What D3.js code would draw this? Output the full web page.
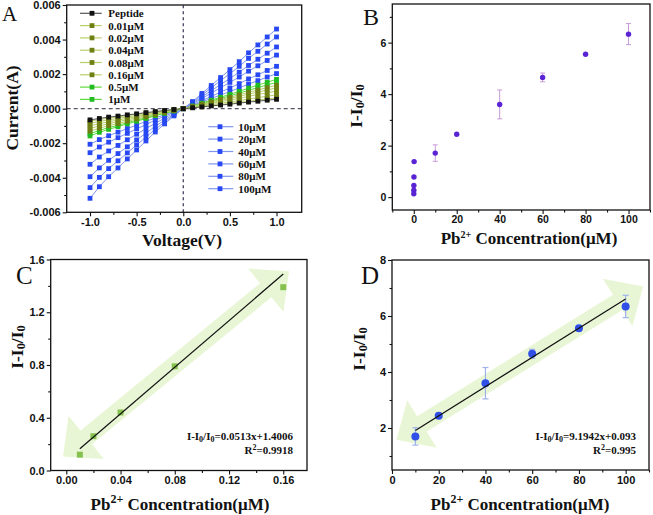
<!DOCTYPE html>
<html><head><meta charset="utf-8">
<script src="https://cdn.jsdelivr.net/npm/d3@7"></script>
<style>body{margin:0;background:#fff}svg{display:block}</style>
</head><body>
<svg id="c" width="653" height="515"></svg>
<script>
// ---------- Panel A data (current in mA) ----------
const voltages = [-1.0,-0.9,-0.8,-0.7,-0.6,-0.5,-0.4,-0.3,-0.2,-0.1,0.0,0.1,0.2,0.3,0.4,0.5,0.6,0.7,0.8,0.9,1.0];
const ivNames = ["Peptide","0.01μM","0.02μM","0.04μM","0.08μM","0.16μM","0.5μM","1μM","10μM","20μM","40μM","60μM","80μM","100μM"];
const iPeptide = [-0.65,-0.57,-0.49,-0.43,-0.36,-0.30,-0.23,-0.17,-0.11,-0.05,0,0.05,0.10,0.16,0.21,0.26,0.32,0.38,0.43,0.49,0.54];
const i001 = [-0.72,-0.63,-0.55,-0.48,-0.40,-0.33,-0.26,-0.19,-0.12,-0.06,0,0.06,0.12,0.18,0.24,0.30,0.37,0.43,0.50,0.56,0.62];
const i002 = [-0.85,-0.74,-0.65,-0.56,-0.48,-0.39,-0.31,-0.22,-0.14,-0.07,0,0.07,0.15,0.23,0.31,0.39,0.47,0.56,0.64,0.72,0.80];
const i004 = [-1.00,-0.87,-0.76,-0.66,-0.56,-0.46,-0.36,-0.26,-0.17,-0.08,0,0.09,0.19,0.30,0.40,0.50,0.60,0.71,0.82,0.92,1.02];
const i008 = [-1.15,-1.00,-0.87,-0.76,-0.64,-0.53,-0.41,-0.30,-0.20,-0.09,0,0.11,0.23,0.35,0.47,0.59,0.71,0.84,0.96,1.08,1.20];
const i016 = [-1.30,-1.13,-0.99,-0.86,-0.73,-0.60,-0.47,-0.34,-0.22,-0.10,0,0.12,0.26,0.39,0.53,0.66,0.80,0.95,1.08,1.22,1.35];
const i05  = [-1.45,-1.26,-1.10,-0.96,-0.81,-0.67,-0.52,-0.38,-0.25,-0.12,0,0.14,0.29,0.44,0.59,0.74,0.90,1.06,1.22,1.37,1.52];
const i1   = [-1.58,-1.37,-1.20,-1.04,-0.88,-0.73,-0.57,-0.41,-0.27,-0.13,0,0.15,0.32,0.49,0.66,0.83,1.00,1.19,1.36,1.53,1.70];
const i10  = [-2.06,-1.79,-1.57,-1.36,-1.15,-0.95,-0.74,-0.54,-0.35,-0.16,0,0.18,0.39,0.59,0.79,0.99,1.20,1.42,1.62,1.83,2.03];
const i20  = [-2.55,-2.22,-1.94,-1.68,-1.43,-1.17,-0.92,-0.66,-0.43,-0.20,0,0.22,0.47,0.71,0.96,1.20,1.45,1.72,1.96,2.21,2.45];
const i40  = [-3.22,-2.80,-2.45,-2.13,-1.80,-1.48,-1.16,-0.84,-0.55,-0.26,0,0.28,0.59,0.90,1.21,1.52,1.83,2.17,2.48,2.79,3.10];
const i60  = [-3.94,-3.43,-2.99,-2.60,-2.21,-1.81,-1.42,-1.02,-0.67,-0.32,0,0.32,0.68,1.04,1.39,1.75,2.11,2.50,2.86,3.21,3.57];
const i80  = [-4.57,-3.98,-3.47,-3.02,-2.56,-2.10,-1.65,-1.19,-0.78,-0.37,0,0.37,0.79,1.20,1.62,2.03,2.45,2.91,3.32,3.74,4.15];
const i100 = [-5.19,-4.52,-3.94,-3.43,-2.91,-2.39,-1.87,-1.35,-0.88,-0.42,0,0.41,0.88,1.34,1.80,2.26,2.72,3.23,3.69,4.15,4.61];
const ivValues = [iPeptide,i001,i002,i004,i008,i016,i05,i1,i10,i20,i40,i60,i80,i100];
const aXTicks = [-1.0,-0.5,0.0,0.5,1.0];
const aXMinor = [-0.75,-0.25,0.25,0.75];
const aYTicks = [-0.006,-0.004,-0.002,0.000,0.002,0.004,0.006];
const aYMinor = [-0.005,-0.003,-0.001,0.001,0.003,0.005];

// ---------- Panel B data ----------
const concB = [0.01,0.02,0.04,0.08,0.16,10,20,40,60,80,100];
const ratioB = [0.13,0.27,0.45,0.78,1.38,1.71,2.44,3.60,4.65,5.55,6.33];
const errB = [0,0,0,0,0,0.32,0.03,0.56,0.17,0.04,0.41];
const bXTicks = [0,20,40,60,80,100];
const bXMinor = [-10,10,30,50,70,90,110];
const bYTicks = [0,2,4,6];
const bYMinor = [1,3,5,7];

// ---------- Panel C data ----------
const concC = [0.01,0.02,0.04,0.08,0.16];
const ratioC = [0.12,0.26,0.44,0.79,1.39];
const fitC = [[0.01,0.165],[0.16,1.49]];
const arrowC = [[-0.0024,0.107],[0.1642,1.511]];
const cXTicks = [0.00,0.04,0.08,0.12,0.16];
const cXMinor = [0.02,0.06,0.10,0.14];
const cYTicks = [0.0,0.4,0.8,1.2,1.6];
const cYMinor = [0.2,0.6,1.0,1.4];
const eqC = ["0.0513x+1.4006","0.9918"];

// ---------- Panel D data ----------
const concD = [10,20,40,60,80,100];
const ratioD = [1.70,2.44,3.60,4.65,5.56,6.34];
const errD = [0.31,0.03,0.56,0.16,0.05,0.40];
const fitD = [[10,1.91],[100,6.61]];
const arrowD = [[1.9,1.58],[107.5,7.05]];
const dXTicks = [0,20,40,60,80,100];
const dXMinor = [10,30,50,70,90,110];
const dYTicks = [2,4,6,8];
const dYMinor = [1,3,5,7];
const eqD = ["9.1942x+0.093","0.995"];

// ---------- styles ----------
const sansB = "'Liberation Sans', Arial, sans-serif";
const serif = "'Liberation Serif', 'Times New Roman', serif";
const svg = d3.select("#c");

function axes(g, x, y, o) {
  const [y0] = y.range(), [x0] = x.range();
  g.append("g").attr("transform", `translate(0,${y0})`)
    .call(d3.axisBottom(x).tickValues(o.xt).tickSize(4).tickPadding(2).tickSizeOuter(0).tickFormat(o.xf));
  g.append("g").attr("transform", `translate(0,${y0})`)
    .call(d3.axisBottom(x).tickValues(o.xm).tickSize(2.5).tickSizeOuter(0).tickFormat(""));
  g.append("g").attr("transform", `translate(${x0},0)`)
    .call(d3.axisLeft(y).tickValues(o.yt).tickSize(4).tickPadding(2).tickSizeOuter(0).tickFormat(o.yf));
  g.append("g").attr("transform", `translate(${x0},0)`)
    .call(d3.axisLeft(y).tickValues(o.ym).tickSize(2.5).tickSizeOuter(0).tickFormat(""));
  g.selectAll(".domain").remove();
  g.selectAll(".tick line").attr("stroke", "#111").attr("stroke-width", 1.1);
  g.selectAll(".tick text").attr("font-family", sansB).attr("font-weight", "bold")
    .attr("font-size", o.fs).attr("fill", "#111");
  const xr = x.range(), yr = y.range();
  g.append("rect").attr("x", xr[0]).attr("y", yr[1]).attr("width", xr[1] - xr[0]).attr("height", yr[0] - yr[1])
    .attr("fill", "none").attr("stroke", "#111").attr("stroke-width", 1.3);
}

function ratioTitle(g, cx, cy) {
  const t = g.append("text").attr("transform", `translate(${cx},${cy}) rotate(-90)`)
    .attr("text-anchor", "middle").attr("dominant-baseline", "central")
    .attr("font-family", serif).attr("font-weight", "bold").attr("font-size", 17.5).attr("fill", "#111");
  t.append("tspan").text("I-I");
  t.append("tspan").text("0").attr("font-size", 12.5).attr("dy", 4);
  t.append("tspan").text("/I").attr("dy", -4);
  t.append("tspan").text("0").attr("font-size", 12.5).attr("dy", 4);
}
function pbTitle(g, cx, by, supSize, shift) {
  const t = g.append("text").attr("x", cx).attr("y", by).attr("text-anchor", "middle")
    .attr("font-family", serif).attr("font-weight", "bold").attr("font-size", 17).attr("fill", "#111");
  t.append("tspan").text("Pb");
  t.append("tspan").text("2+").attr("font-size", supSize).attr("dy", -shift);
  t.append("tspan").text(" Concentration(μM)").attr("dy", shift);
}
function letter(txt, x, y, fs) {
  svg.append("text").attr("x", x).attr("y", y).text(txt).attr("font-family", serif)
    .attr("font-size", fs).attr("fill", "#111");
}
function arrowPts(p0, p1, w, hw, hl) {
  const dx = p1[0]-p0[0], dy = p1[1]-p0[1], L = Math.hypot(dx, dy);
  const ux = dx/L, uy = dy/L, nx = -uy, ny = ux;
  const b1 = [p1[0]-ux*hl, p1[1]-uy*hl], b0 = [p0[0]+ux*hl, p0[1]+uy*hl];
  const P = (b, s) => [b[0]+nx*s, b[1]+ny*s];
  return [p1, P(b1,hw), P(b1,w), P(b0,w), P(b0,hw), p0, P(b0,-hw), P(b0,-w), P(b1,-w), P(b1,-hw)];
}
function equation(g, xr, y1, val, r2) {
  const t = g.append("text").attr("x", xr).attr("y", y1).attr("text-anchor", "end")
    .attr("font-family", serif).attr("font-weight", "bold").attr("font-size", 11).attr("fill", "#111");
  t.append("tspan").text("I-I");
  t.append("tspan").text("0").attr("font-size", 8).attr("dy", 2);
  t.append("tspan").text("/I").attr("dy", -2);
  t.append("tspan").text("0").attr("font-size", 8).attr("dy", 2);
  t.append("tspan").text("=" + val).attr("dy", -2);
  const r = g.append("text").attr("x", xr).attr("y", y1 + 13.5).attr("text-anchor", "end")
    .attr("font-family", serif).attr("font-weight", "bold").attr("font-size", 11).attr("fill", "#111");
  r.append("tspan").text("R");
  r.append("tspan").text("2").attr("font-size", 8).attr("dy", -4);
  r.append("tspan").text("=" + r2).attr("dy", 4);
}

// ================= Panel A =================
{
  const g = svg.append("g");
  const x = d3.scaleLinear().domain([-1.25, 1.27]).range([66.7, 301.7]);
  const y = d3.scaleLinear().domain([-0.006, 0.006]).range([212.3, 5]);
  const sq = ["#111","#6f7f14","#6f7f14","#6f7f14","#6f7f14","#6f7f14","#22bb22","#22bb22",
              "#2748f2","#2748f2","#2748f2","#2748f2","#2748f2","#2748f2"];
  const ln = ["#555","#b9d06a","#b9d06a","#b9d06a","#b9d06a","#b9d06a","#5fdc3c","#5fdc3c",
              "#7f96ee","#7f96ee","#7f96ee","#7f96ee","#7f96ee","#7f96ee"];
  g.append("line").attr("x1", x.range()[0]).attr("x2", x.range()[1]).attr("y1", y(0)).attr("y2", y(0))
    .attr("stroke", "#556").attr("stroke-width", 1.2).attr("stroke-dasharray", "4,3");
  g.append("line").attr("x1", x(0)).attr("x2", x(0)).attr("y1", y.range()[0]).attr("y2", y.range()[1])
    .attr("stroke", "#335").attr("stroke-width", 1.2).attr("stroke-dasharray", "3,3");
  const order = [13,12,11,10,9,8,7,6,5,4,3,2,1,0];
  const line = d3.line().x((d, i) => x(voltages[i])).y(d => y(d * 0.001));
  order.forEach(k => {
    g.append("path").attr("d", line(ivValues[k])).attr("fill", "none").attr("stroke", ln[k]).attr("stroke-width", 1);
    g.selectAll(null).data(ivValues[k]).join("rect")
      .attr("x", (d, i) => x(voltages[i]) - 2.4).attr("y", d => y(d * 0.001) - 2.4)
      .attr("width", 4.8).attr("height", 4.8).attr("fill", sq[k]);
  });
  axes(g, x, y, {xt: aXTicks, xm: aXMinor, yt: aYTicks, ym: aYMinor,
    xf: d3.format(".1f"), yf: d3.format(".3f"), fs: 11});
  g.selectAll(".tick text").text(function(){ return this.textContent.replace("−","-"); });
  const leg = (idx, lx0, lx1, mx, tx, yStart, step) => {
    idx.forEach((k, j) => {
      const yy = yStart + j * step;
      g.append("line").attr("x1", lx0).attr("x2", lx1).attr("y1", yy).attr("y2", yy)
        .attr("stroke", ln[k]).attr("stroke-width", 1.2);
      g.append("rect").attr("x", mx - 2.4).attr("y", yy - 2.4).attr("width", 4.8).attr("height", 4.8).attr("fill", sq[k]);
      g.append("text").attr("x", tx).attr("y", yy).attr("dominant-baseline", "central")
        .attr("font-family", serif).attr("font-weight", "bold").attr("font-size", 11).attr("fill", "#111")
        .text(ivNames[k]);
    });
  };
  leg([0,1,2,3,4,5,6,7], 80, 101.7, 92, 108.3, 13.3, 12.3);
  leg([8,9,10,11,12,13], 208.3, 233.3, 220, 238.3, 126.7, 12.4);
  g.append("text").attr("transform", "translate(12,108) rotate(-90)").attr("text-anchor", "middle")
    .attr("dominant-baseline", "central").attr("font-family", serif).attr("font-weight", "bold")
    .attr("font-size", 17.5).attr("fill", "#111").text("Current(A)");
  g.append("text").attr("x", 182).attr("y", 246).attr("text-anchor", "middle")
    .attr("font-family", serif).attr("font-weight", "bold").attr("font-size", 17.5).attr("fill", "#111").text("Voltage(V)");
  letter("A", 2, 20.7, 21);
}

// ================= Panel B =================
{
  const g = svg.append("g");
  const x = d3.scaleLinear().domain([-10, 110]).range([392.3, 650]);
  const y = d3.scaleLinear().domain([-0.5, 7.5]).range([210, 4]);
  concB.forEach((c, i) => {
    if (errB[i] > 0.05) {
      const cx = x(c), t = y(ratioB[i] + errB[i]), b = y(ratioB[i] - errB[i]);
      g.append("line").attr("x1", cx).attr("x2", cx).attr("y1", t).attr("y2", b).attr("stroke", "#c79ad8").attr("stroke-width", 1);
      [t, b].forEach(yy => g.append("line").attr("x1", cx - 2.5).attr("x2", cx + 2.5).attr("y1", yy).attr("y2", yy)
        .attr("stroke", "#c79ad8").attr("stroke-width", 1));
    }
  });
  g.selectAll(null).data(concB).join("circle").attr("cx", d => x(d)).attr("cy", (d, i) => y(ratioB[i]))
    .attr("r", 2.7).attr("fill", "#5a24d4");
  axes(g, x, y, {xt: bXTicks, xm: bXMinor, yt: bYTicks, ym: bYMinor,
    xf: d3.format("d"), yf: d3.format("d"), fs: 10.5});
  ratioTitle(g, 356, 106);
  pbTitle(g, 529, 244, 10, 6);
  letter("B", 363, 25, 24);
}

// ================= Panel C =================
{
  const g = svg.append("g");
  const x = d3.scaleLinear().domain([-0.0115, 0.1775]).range([50.7, 307]);
  const y = d3.scaleLinear().domain([0, 1.6]).range([470.5, 259.5]);
  const pts = arrowPts([x(arrowC[0][0]), y(arrowC[0][1])], [x(arrowC[1][0]), y(arrowC[1][1])], 9, 28, 30);
  g.append("polygon").attr("points", pts.map(p => p.join(",")).join(" ")).attr("fill", "#e4f4cc").attr("opacity", 0.8);
  g.selectAll(null).data(concC).join("rect").attr("x", d => x(d) - 3).attr("y", (d, i) => y(ratioC[i]) - 3)
    .attr("width", 6).attr("height", 6).attr("fill", "#86c04e");
  g.append("line").attr("x1", x(fitC[0][0])).attr("y1", y(fitC[0][1])).attr("x2", x(fitC[1][0])).attr("y2", y(fitC[1][1]))
    .attr("stroke", "#111").attr("stroke-width", 1.2);
  axes(g, x, y, {xt: cXTicks, xm: cXMinor, yt: cYTicks, ym: cYMinor,
    xf: d3.format(".2f"), yf: d3.format(".1f"), fs: 11});
  equation(g, 293, 440, eqC[0], eqC[1]);
  ratioTitle(g, 17, 347);
  pbTitle(g, 180, 510, 12, 7);
  letter("C", 16, 284, 25);
}

// ================= Panel D =================
{
  const g = svg.append("g");
  const x = d3.scaleLinear().domain([0, 110]).range([392, 649]);
  const y = d3.scaleLinear().domain([0.5, 8]).range([470, 260]);
  const pts = arrowPts([x(arrowD[0][0]), y(arrowD[0][1])], [x(arrowD[1][0]), y(arrowD[1][1])], 9, 28, 30);
  g.append("polygon").attr("points", pts.map(p => p.join(",")).join(" ")).attr("fill", "#e4f4cc").attr("opacity", 0.8);
  concD.forEach((c, i) => {
    if (errD[i] > 0.06) {
      const cx = x(c), t = y(ratioD[i] + errD[i]), b = y(ratioD[i] - errD[i]);
      g.append("line").attr("x1", cx).attr("x2", cx).attr("y1", t).attr("y2", b).attr("stroke", "#9fb2ea").attr("stroke-width", 1.2);
      [t, b].forEach(yy => g.append("line").attr("x1", cx - 3).attr("x2", cx + 3).attr("y1", yy).attr("y2", yy)
        .attr("stroke", "#9fb2ea").attr("stroke-width", 1.2));
    }
  });
  g.selectAll(null).data(concD).join("circle").attr("cx", d => x(d)).attr("cy", (d, i) => y(ratioD[i]))
    .attr("r", 4).attr("fill", "#2f4fe6");
  g.append("line").attr("x1", x(fitD[0][0])).attr("y1", y(fitD[0][1])).attr("x2", x(fitD[1][0])).attr("y2", y(fitD[1][1]))
    .attr("stroke", "#111").attr("stroke-width", 1.2);
  axes(g, x, y, {xt: dXTicks, xm: dXMinor, yt: dYTicks, ym: dYMinor,
    xf: d3.format("d"), yf: d3.format("d"), fs: 11});
  equation(g, 636, 440, eqD[0], eqD[1]);
  ratioTitle(g, 359, 349);
  pbTitle(g, 520, 510, 12, 7);
  letter("D", 361, 284, 25);
}
</script>
</body></html>
